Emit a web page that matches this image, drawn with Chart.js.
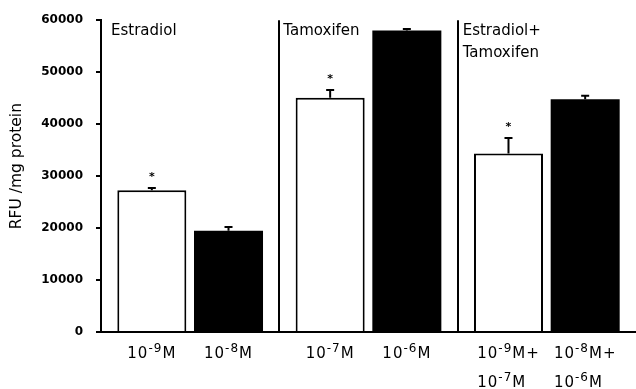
<!DOCTYPE html>
<html>
<head>
<meta charset="utf-8">
<script src="https://cdn.jsdelivr.net/npm/chart.js@4.4.1/dist/chart.umd.min.js"></script>
<style>
  html, body { margin: 0; padding: 0; background: #ffffff; }
  #wrap { width: 636px; height: 389px; position: relative; }
</style>
</head>
<body>
<div id="wrap"><canvas id="chart"></canvas></div>
<script>
// Treatment groups (panel titles, one line per entry)
const groupNames = [['Estradiol'], ['Tamoxifen'], ['Estradiol+', 'Tamoxifen']];

// Dose labels under each bar; "a^b^c" = a, superscript b, c
const lowDoseLabels  = [['10^-9^M'], ['10^-7^M'], ['10^-9^M+', '10^-7^M']];
const highDoseLabels = [['10^-8^M'], ['10^-6^M'], ['10^-8^M+', '10^-6^M']];

// RFU / mg protein (mean) and upper error
const lowDoseValues  = [27300, 45100, 34350];
const lowDoseErrors  = [400, 1450, 3000];
const highDoseValues = [19500, 58000, 44800];
const highDoseErrors = [700, 300, 650];

// Significance markers
const lowDoseSignificant  = [true, true, true];
const highDoseSignificant = [false, false, false];

// Y axis
const yTickValues = [0, 10000, 20000, 30000, 40000, 50000, 60000];
const yAxisTitle = 'RFU /mg protein';

const FONT = "'DejaVu Sans', sans-serif";
const MAIN_FONT = '15px ' + FONT;
const SUP_FONT = '12px ' + FONT;

function doseParts(ctx, text) {
  return text.split('^').map((p, i) => {
    const sup = i % 2 === 1;
    ctx.font = sup ? SUP_FONT : MAIN_FONT;
    ctx.letterSpacing = '1px';
    return { text: p, sup, width: ctx.measureText(p).width };
  });
}
function drawDoseLine(ctx, text, x, y) {
  let cx = x;
  doseParts(ctx, text).forEach(p => {
    ctx.font = p.sup ? SUP_FONT : MAIN_FONT;
    ctx.letterSpacing = '1px';
    ctx.fillText(p.text, cx, p.sup ? y - 6 : y);
    cx += p.width;
  });
}
function doseLineWidth(ctx, text) {
  return doseParts(ctx, text).reduce((w, p) => w + p.width, 0);
}

const annotations = {
  id: 'annotations',
  afterDatasetsDraw(chart) {
    const ctx = chart.ctx;
    const y = chart.scales.y;
    const series = [
      { meta: chart.getDatasetMeta(0), values: lowDoseValues, errors: lowDoseErrors, sig: lowDoseSignificant },
      { meta: chart.getDatasetMeta(1), values: highDoseValues, errors: highDoseErrors, sig: highDoseSignificant }
    ];
    ctx.save();
    ctx.strokeStyle = '#000';
    ctx.fillStyle = '#000';
    ctx.lineWidth = 2;
    series.forEach(s => {
      s.meta.data.forEach((bar, i) => {
        const top = y.getPixelForValue(s.values[i]);
        const capY = y.getPixelForValue(s.values[i] + s.errors[i]);
        ctx.beginPath();
        ctx.moveTo(bar.x, top);
        ctx.lineTo(bar.x, capY);
        ctx.moveTo(bar.x - 4, capY);
        ctx.lineTo(bar.x + 4, capY);
        ctx.stroke();
        if (s.sig[i]) {
          ctx.font = 'bold 11px ' + FONT;
          ctx.textAlign = 'center';
          ctx.textBaseline = 'alphabetic';
          ctx.fillText('*', bar.x, capY - 8);
        }
      });
    });
    ctx.restore();
  },
  afterDraw(chart) {
    const ctx = chart.ctx;
    const area = chart.chartArea;
    const x = chart.scales.x;
    ctx.save();
    ctx.fillStyle = '#000';
    ctx.textBaseline = 'alphabetic';
    ctx.textAlign = 'left';

    // Dose labels below the bars
    const labelSets = [lowDoseLabels, highDoseLabels];
    [0, 1].forEach(d => {
      chart.getDatasetMeta(d).data.forEach((bar, i) => {
        const lines = labelSets[d][i];
        const left = bar.x - doseLineWidth(ctx, lines[0]) / 2;
        lines.forEach((line, k) => drawDoseLine(ctx, line, left, area.bottom + 26 + k * 29));
      });
    });

    // Panel titles
    ctx.letterSpacing = '0px';
    const titleOffsets = [10, 4, 5];
    ctx.font = '15px ' + FONT;
    groupNames.forEach((lines, i) => {
      const half = (x.getPixelForValue(1) - x.getPixelForValue(0)) / 2;
      const edge = i === 0 ? area.left : x.getPixelForValue(i) - half;
      lines.forEach((line, k) => ctx.fillText(line, edge + titleOffsets[i], 35 + k * 22));
    });

    // Y axis title, rotated
    ctx.translate(17, (area.top + area.bottom) / 2 - 10);
    ctx.rotate(-Math.PI / 2);
    ctx.font = '15.5px ' + FONT;
    ctx.textAlign = 'center';
    ctx.textBaseline = 'middle';
    ctx.fillText(yAxisTitle, 0, 0);
    ctx.restore();
  }
};

new Chart(document.getElementById('chart'), {
  type: 'bar',
  data: {
    labels: groupNames.map(g => g.join(' ')),
    datasets: [
      {
        data: lowDoseValues,
        backgroundColor: '#ffffff',
        borderColor: '#000000',
        borderWidth: 2,
        categoryPercentage: 0.86,
        barPercentage: 0.9
      },
      {
        data: highDoseValues,
        backgroundColor: '#000000',
        borderColor: '#000000',
        borderWidth: 0,
        categoryPercentage: 0.86,
        barPercentage: 0.9
      }
    ]
  },
  options: {
    responsive: true,
    maintainAspectRatio: false,
    animation: false,
    layout: { padding: { top: 16, right: -4, left: 0, bottom: 0 } },
    plugins: { legend: { display: false }, tooltip: { enabled: false } },
    scales: {
      x: {
        offset: true,
        ticks: { display: false },
        grid: {
          offset: true,
          drawTicks: false,
          lineWidth: 2,
          color: ctx => (ctx.index === 1 || ctx.index === 2) ? '#000000' : 'rgba(0,0,0,0)'
        },
        border: { display: true, color: '#000000', width: 2 },
        afterFit: s => { s.height = 57; }
      },
      y: {
        min: 0,
        max: 60000,
        afterBuildTicks: s => { s.ticks = yTickValues.map(v => ({ value: v })); },
        ticks: {
          color: '#000000',
          padding: 13,
          font: { family: FONT, size: 12, weight: 'bold' },
          callback: v => String(v)
        },
        grid: {
          drawOnChartArea: false,
          drawTicks: true,
          tickLength: 5,
          lineWidth: 2,
          color: '#000000'
        },
        border: { display: true, color: '#000000', width: 2 },
        title: { display: false },
        afterFit: s => { s.width = 101; }
      }
    }
  },
  plugins: [annotations]
});
</script>
</body>
</html>
